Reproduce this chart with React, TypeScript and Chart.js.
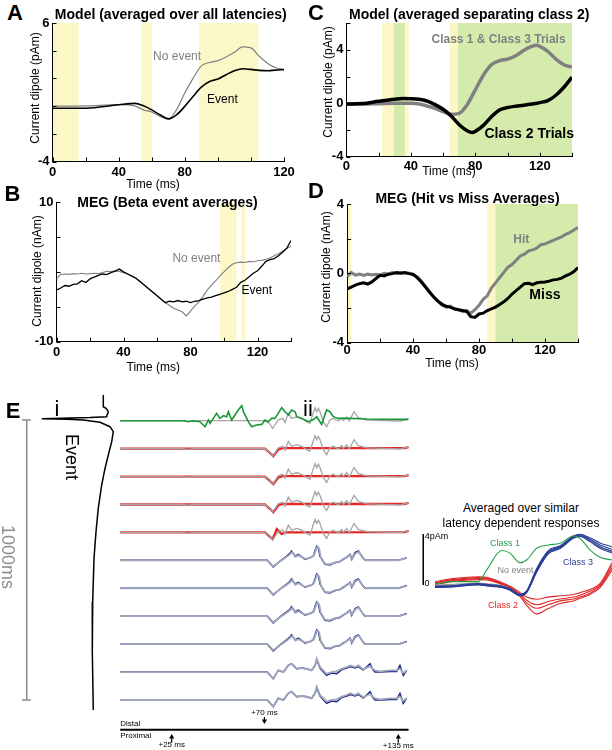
import React, { useEffect, useRef } from 'react';
import { Chart, registerables } from 'chart.js';

Chart.register(...registerables);

const FONT = '"Liberation Sans", Arial, Helvetica, sans-serif';

// ---------------- Panel A: Model (averaged over all latencies) ----------------
const A_T = [0, 20, 40, 50, 55, 60, 65, 70, 75, 80, 85, 90, 95, 100, 105, 110, 115, 120, 125, 130, 135, 140];
const A_EVENT = [-0.15, -0.15, 0.1, 0.2, 0.02, -0.27, -0.63, -0.92, -0.63, -0.02, 0.7, 1.37, 1.78, 1.95, 2.27, 2.55, 2.7, 2.65, 2.58, 2.55, 2.6, 2.63];
const A_NOEVENT = [0, 0.02, 0.1, 0, -0.27, -0.43, -0.75, -0.94, -0.27, 0.94, 2.0, 2.9, 3.15, 3.28, 3.54, 3.88, 4.27, 4.2, 3.6, 3.1, 2.77, 2.65];
const A_YELLOW = [[0, 15.8], [53.5, 60.1], [88.5, 124.6]];
const A_XLABELS: Record<string, string> = { '0': '0', '40': '40', '80': '80', '140': '120' };
const A_YLABELS: Record<string, string> = { '6': '6', '-4': '-4' };

// ---------------- Panel B: MEG (Beta event averages) ----------------
const B_T = [0, 2.5, 5, 7.5, 10, 12.5, 15, 17.5, 20, 22.5, 25, 27.5, 30, 32.5, 35, 37.5, 40, 42.5, 45, 47.5, 50, 52.5, 55, 57.5, 60, 62.5, 65, 67.5, 70, 72.5, 75, 77.5, 80, 82.5, 85, 87.5, 90, 92.5, 95, 97.5, 100, 102.5, 105, 107.5, 110, 112.5, 115, 117.5, 120, 122.5, 125, 127.5, 130, 132.5, 135, 137.5, 140];
const B_NOEVENT = [-1.0, -0.35, -0.3, -0.35, -0.25, -0.3, -0.2, -0.3, -0.25, -0.2, -0.25, -0.1, 0.1, 0.05, 0.15, 0.05, -0.1, -0.3, -0.6, -0.95, -1.4, -1.9, -2.4, -2.9, -3.4, -3.9, -4.4, -4.8, -5.2, -5.45, -5.7, -6.3, -5.6, -4.9, -4.3, -3.5, -2.6, -1.9, -1.3, -0.6, 0.0, 0.6, 1.1, 1.3, 1.4, 1.35, 1.5, 1.45, 1.6, 1.65, 1.8, 2.0, 2.3, 2.6, 3.0, 3.35, 3.7];
const B_EVENT = [-2.6, -2.3, -1.95, -2.05, -1.8, -1.7, -1.25, -1.5, -1.0, -0.75, -0.5, -0.3, -0.4, -0.1, 0.1, 0.4, 0.0, -0.3, -0.6, -0.9, -1.4, -1.9, -2.4, -2.9, -3.4, -3.9, -4.4, -4.2, -4.3, -4.1, -4.3, -4.2, -4.4, -4.2, -4.1, -3.9, -3.7, -3.6, -3.4, -3.2, -3.0, -2.8, -2.5, -2.2, -1.5, -1.2, -0.7, -0.2, 0.15, 0.8, 1.5, 1.75, 1.9, 2.3, 2.8, 3.4, 4.5];
const B_YELLOW = [[97.7, 107.5], [110.5, 112.7]];
const B_XLABELS: Record<string, string> = { '0': '0', '40': '40', '80': '80', '120': '120' };
const B_YLABELS: Record<string, string> = { '10': '10', '-10': '-10' };

// ---------------- Panel C: Model (averaged separating class 2) ----------------
const C_T = [0, 10, 20, 30, 35, 40, 45, 50, 55, 60, 65, 70, 75, 78, 80, 85, 90, 95, 100, 105, 110, 115, 118, 120, 125, 130, 135, 140];
const C_CLASS13 = [-0.05, -0.05, -0.03, 0, 0, 0, -0.05, -0.2, -0.38, -0.62, -0.82, -0.75, -0.1, 0.55, 1.0, 2.1, 2.88, 3.18, 3.3, 3.55, 3.95, 4.25, 4.33, 4.25, 3.88, 3.3, 2.88, 2.7];
const C_CLASS2 = [-0.05, -0.02, 0.15, 0.3, 0.35, 0.34, 0.3, 0.17, -0.1, -0.45, -0.95, -1.6, -2.05, -2.18, -2.1, -1.65, -1.0, -0.5, -0.32, -0.22, -0.15, -0.05, 0.0, 0.05, 0.2, 0.6, 1.2, 1.95];
const C_YELLOW = [[22.1, 38.6], [64, 69.2]];
const C_GREEN = [[29.5, 36.2], [69.2, 140]];
const C_XLABELS: Record<string, string> = { '0': '0', '40': '40', '80': '80', '120': '120' };
const C_YLABELS: Record<string, string> = { '4': '4', '0': '0', '-4': '-4' };

// ---------------- Panel D: MEG (Hit vs Miss Averages) ----------------
const D_T = B_T;
const D_HIT = [-0.2, 0.05, -0.1, -0.05, -0.12, -0.05, -0.1, -0.05, -0.1, 0.0, -0.05, 0.05, -0.02, 0.05, 0.0, 0.02, -0.1, -0.2, -0.45, -0.75, -1.05, -1.4, -1.6, -1.85, -1.95, -1.9, -2.05, -2.1, -2.2, -2.15, -2.3, -2.1, -1.85, -1.5, -1.3, -0.85, -0.55, -0.25, 0.05, 0.35, 0.5, 0.75, 1.0, 1.1, 1.3, 1.35, 1.45, 1.65, 1.7, 1.8, 1.9, 2.0, 2.1, 2.25, 2.35, 2.5, 2.65];
const D_MISS = [-0.9, -0.8, -0.68, -0.6, -0.55, -0.62, -0.5, -0.3, -0.12, -0.15, -0.05, -0.02, 0.05, 0.0, 0.05, -0.02, -0.05, -0.25, -0.5, -0.8, -1.1, -1.35, -1.6, -1.78, -1.9, -1.95, -2.05, -2.1, -2.15, -2.2, -2.5, -2.55, -2.35, -2.3, -2.15, -2.05, -1.95, -1.8, -1.65, -1.45, -1.2, -1.0, -0.8, -0.6, -0.58, -0.65, -0.55, -0.52, -0.5, -0.45, -0.38, -0.35, -0.28, -0.15, -0.05, 0.1, 0.33];
const D_YELLOW = [[0, 2.6], [84.8, 89.9]];
const D_GREEN = [[89.9, 140]];
const D_XLABELS: Record<string, string> = { '0': '0', '40': '40', '80': '80', '120': '120' };
const D_YLABELS: Record<string, string> = { '4': '4', '0': '0', '-4': '-4' };

// ---------------- Panel E i: event waveform (amplitude, time ms) ----------------
const EI_TRACE: [number, number][] = [[0.03, -89], [0.03, -47.5], [0.3, -41.8], [0.5, -32], [0.5, -25], [0.4, -18], [0.37, -11.9], [-1.3, -8.9], [-6.13, -4.6], [-3.63, -2.5], [-1.97, 0], [-0.3, 8.2], [0.7, 23.9], [1.03, 41.8], [0.87, 77.5], [0.53, 125], [0.2, 172.5], [-0.13, 232], [-0.47, 315], [-0.7, 399], [-0.9, 494], [-1.03, 649], [-1.07, 827], [-0.97, 1036]];
const EI_SCALEBAR_MS = [0, 1000];

// ---------------- Panel E ii: single-trial traces (time ms, amplitude) ----------------
const EII_GREEN: [number, number][] = [[0, 0], [31.5, 0], [33, -1], [35, 0], [38.7, -1], [41.2, -6], [42.8, 0.7], [43.6, -2.7], [45.2, 2.3], [46.8, 7.3], [48.4, 2.3], [50.1, 5], [51.7, 4], [52.5, 9], [54.1, 0.7], [55.7, 5.7], [57.3, 10.7], [59, 15], [59.8, 9], [61.4, 2.3], [62.2, -1], [63.8, -6], [66.2, -4.3], [68.7, -3.7], [70.3, 0.7], [71.9, -1], [73.5, 2.3], [75.1, 2.3], [76.7, 7.3], [78.4, 13], [80, 9], [81.6, 5.7], [83.2, 10.7], [84.9, 9], [85.7, 4], [88.1, 2.3], [89.7, 0.7], [91.3, -1], [93.4, 0.7], [95.4, 4], [97.8, -3.7], [100.2, 10.7], [101.8, 9], [103.4, 4], [105.9, 2.3], [111.6, 2.3], [119.7, 1.7], [135.9, 1.3], [139.9, 1.3]];
const EII_GREY_EARLY: [number, number][] = [[0, 0], [30, 0], [33, -0.7], [36, 0], [70.3, 0], [72.5, -3], [74, -7.7], [76.7, 0.7], [78.9, 2.3], [80, -1.7], [81.6, 7.3], [83.2, 2.3], [85.7, 4], [88.1, 2.3], [90.5, -1], [92.1, -2.7], [93.4, 5.7], [94.6, 13], [95.4, 9], [96.2, 12.3], [97, 9], [98.6, -1], [100.2, -6], [101.8, 0.7], [103.4, 2.3], [105.9, -0.3], [107.5, 3], [108.3, 0.3], [110, 3.7], [111.2, -0.3], [113.5, 9], [115.6, 3], [119.7, 0.7], [135.9, -0.3], [139.9, 1.7]];
const EII_RED: [number, number][] = [[0, 0], [70.3, 0], [72.7, -4.3], [74.3, -7.7], [76.7, -1], [78.6, 0.5], [138, 0.5], [140, 1.5]];
const EII_RED_LAST: [number, number][] = [[0, 0], [70.3, 0], [74, -6.7], [76, 3.3], [78.4, -1.7], [80, 0], [138, 0.3], [140, 1.5]];
const EII_BLUE_MID: [number, number][] = [[0, 0], [71.4, 0], [74.3, -6.7], [77.6, -0.7], [80.8, 4.3], [82.4, 7], [83.2, 9.3], [84.9, 4.3], [86.5, 6], [89.7, 1], [92.1, 2.7], [93.7, 4.3], [95.4, 14.3], [96.2, 12.7], [97, 4], [99.4, -4], [101.8, -4.7], [104.3, -2.3], [106.7, -1.3], [108.3, 1], [110, 3.3], [111.6, 6], [112.4, 1], [114, 7.7], [115.6, 9.3], [117.2, 4.3], [118.8, 0], [135, 0], [139.1, 2.7]];
const EII_GREY_MID: [number, number][] = [[0, 0], [71.4, 0], [74.3, -6], [77.6, -1], [80.8, 3.5], [82.4, 6], [83.6, 8.5], [85, 3.5], [86.5, 5], [89.7, 1.5], [92.1, 2.5], [93.9, 4.5], [95.6, 13.5], [96.6, 11.5], [97.4, 3], [99.4, -3.5], [101.8, -4], [104.3, -2], [106.7, -1], [108.3, 1.5], [110, 3], [111.6, 5.5], [112.6, 1.5], [114.2, 7], [115.8, 8.5], [117.4, 3.5], [119, 0], [135, 0], [139.1, 2.3]];
const EII_BLUE_LATE: [number, number][] = [[0, 0], [71.4, 0], [74.3, -6.7], [76.7, 1.7], [79.2, 0], [81.6, 6.7], [83.2, 8.3], [85.7, 3.3], [88.1, 4], [90.5, 3.3], [92.9, 1.7], [94.6, 6.7], [95.4, 12.5], [97, 4], [100.2, -3.3], [102.6, -1], [105.1, -1.7], [107.5, 2.5], [110, 4], [111.6, 5.5], [114, 4], [115.6, 5.5], [118, 2], [121.3, 8.3], [122.6, 2.5], [123.7, 0], [126.1, 0], [131, 0.5], [134.2, 0.5], [135.8, 6.7], [137.4, -3.3], [139.1, 1.7]];
const EII_GREY_LATE: [number, number][] = [[0, 0], [71.4, 0], [74.3, -6.7], [76.7, 1.7], [79.2, 0], [81.6, 6.7], [83.2, 8.3], [85.7, 3.3], [88.1, 4], [90.5, 3.3], [92.9, 1.7], [94.6, 6.7], [95.4, 13.3], [97, 5], [100.2, -1.7], [102.6, 0], [105.1, 0.7], [107.5, 3.3], [110, 5], [111.6, 6.7], [114, 5], [115.6, 6.7], [118, 2.7], [121.3, 6], [122.6, 3.3], [123.7, 1.7], [126.1, 0.7], [131, 1.7], [134.2, 1.7], [135.8, 3.3], [137.4, -1], [139.1, 1.7]];
const EII_ROW_CLASSES = ['green', 'red', 'red', 'red', 'red', 'blue', 'blue', 'blue', 'blue', 'blue', 'blue'];
const EII_MARKERS_MS = [25, 70, 135];

// ---------------- Inset: averaged latency-dependent responses (pAm) ----------------
const IN_T = [0, 14.5, 34.3, 40.9, 52.7, 59.3, 67.2, 72.5, 80.4, 89.6, 98.9, 109.4, 114.7, 122.6, 130.5, 140];
const IN_CLASS1 = [0.08, 0.26, 0.26, 1.18, 2.7, 2.5, 1.75, 1.96, 2.88, 3.14, 3.27, 3.84, 3.66, 2.75, 2.17, 1.96];
const IN_NOEVENT = [0.0, 0.05, 0.15, 0.1, -0.05, -0.3, -0.75, -0.5, 1.1, 2.55, 2.95, 3.75, 3.88, 3.5, 3.0, 2.6];
const IN_CLASS3_A = [-0.08, -0.04, 0.12, 0.05, -0.08, -0.28, -0.72, -0.46, 1.3, 2.7, 3.08, 3.85, 3.98, 3.7, 3.3, 3.0];
const IN_CLASS3_B = [-0.12, -0.08, 0.08, 0.0, -0.13, -0.34, -0.78, -0.52, 1.18, 2.61, 3.0, 3.79, 3.92, 3.58, 3.14, 2.8];
const IN_CLASS3_C = [-0.16, -0.12, 0.04, -0.04, -0.17, -0.38, -0.82, -0.56, 1.08, 2.52, 2.92, 3.72, 3.86, 3.48, 3.0, 2.65];
const IN_CLASS3_D = [-0.2, -0.15, 0.0, -0.08, -0.2, -0.42, -0.85, -0.6, 1.0, 2.45, 2.85, 3.66, 3.8, 3.38, 2.88, 2.5];
const IN_CLASS2_A = [0.26, 0.5, 0.65, 0.6, 0.2, -0.1, -0.6, -0.95, -1.12, -0.95, -0.85, -0.75, -0.6, -0.35, 0.1, 1.75];
const IN_CLASS2_B = [0.18, 0.42, 0.58, 0.55, 0.15, -0.15, -0.7, -1.2, -1.55, -1.3, -1.1, -0.95, -0.8, -0.5, 0.0, 1.55];
const IN_CLASS2_C = [0.1, 0.35, 0.5, 0.48, 0.1, -0.2, -0.8, -1.4, -1.83, -1.55, -1.25, -1.1, -0.95, -0.65, -0.1, 1.35];
const IN_CLASS2_D = [0.02, 0.28, 0.42, 0.4, 0.05, -0.25, -0.9, -1.6, -2.27, -1.85, -1.45, -1.25, -1.05, -0.75, -0.2, 1.15];
const IN_SCALEBAR_PAM = [0, 4];

// ---------------- styling ----------------
const YELLOW = 'rgb(251,247,198)';
const GREEN = 'rgb(213,235,171)';
const GREY = 'rgb(128,128,128)';
const ROW_GAP = 27.93;
const TIMELINE_LEVEL = -309;

const xy = (t: number[], v: number[]) => t.map((x, i) => ({ x, y: v[i] }));

const shadePlugin = (regions: { from: number; to: number; color: string }[]) => ({
  id: 'shade',
  beforeDraw(chart: any) {
    const { ctx, chartArea, scales } = chart;
    ctx.save();
    for (const r of regions) {
      const x0 = scales.x.getPixelForValue(r.from);
      const x1 = scales.x.getPixelForValue(r.to);
      ctx.fillStyle = r.color;
      ctx.fillRect(x0, chartArea.top, x1 - x0, chartArea.bottom - chartArea.top);
    }
    ctx.restore();
  },
});

const inwardTicks = {
  id: 'inwardTicks',
  afterDraw(chart: any) {
    const { ctx, chartArea, scales } = chart;
    ctx.save();
    ctx.strokeStyle = '#000';
    ctx.lineWidth = 1;
    ctx.beginPath();
    for (const t of scales.x.ticks) {
      const px = Math.round(scales.x.getPixelForValue(t.value)) + 0.5;
      ctx.moveTo(px, chartArea.bottom);
      ctx.lineTo(px, chartArea.bottom - 4);
    }
    for (const t of scales.y.ticks) {
      const py = Math.round(scales.y.getPixelForValue(t.value)) + 0.5;
      ctx.moveTo(chartArea.left, py);
      ctx.lineTo(chartArea.left + 4, py);
    }
    ctx.stroke();
    ctx.restore();
  },
};

type Note = { x: number; y: number; text: string; color: string; font: string; align?: string };
const notesPlugin = (list: Note[]) => ({
  id: 'notes',
  afterDatasetsDraw(chart: any) {
    const { ctx, scales } = chart;
    ctx.save();
    for (const n of list) {
      ctx.font = n.font;
      ctx.fillStyle = n.color;
      ctx.textAlign = n.align || 'left';
      ctx.textBaseline = 'middle';
      ctx.fillText(n.text, scales.x.getPixelForValue(n.x), scales.y.getPixelForValue(n.y));
    }
    ctx.restore();
  },
});

const arrowsPlugin = (list: { x: number; from: number; to: number }[]) => ({
  id: 'arrows',
  afterDatasetsDraw(chart: any) {
    const { ctx, scales } = chart;
    ctx.save();
    ctx.strokeStyle = '#000';
    ctx.fillStyle = '#000';
    ctx.lineWidth = 1.2;
    for (const a of list) {
      const px = scales.x.getPixelForValue(a.x);
      const y0 = scales.y.getPixelForValue(a.from);
      const y1 = scales.y.getPixelForValue(a.to);
      const dir = Math.sign(y1 - y0);
      ctx.beginPath();
      ctx.moveTo(px, y0);
      ctx.lineTo(px, y1 - dir * 3);
      ctx.stroke();
      ctx.beginPath();
      ctx.moveTo(px, y1);
      ctx.lineTo(px - 2.6, y1 - dir * 4.5);
      ctx.lineTo(px + 2.6, y1 - dir * 4.5);
      ctx.closePath();
      ctx.fill();
    }
    ctx.restore();
  },
});

type Spec = {
  plotLeft: number; plotTop: number; plotW: number; plotH: number;
  W: number; H: number; T: number; R: number; xPad: number;
  yMin: number; yMax: number; yStep: number;
  xLabels: Record<string, string>; yLabels: Record<string, string>;
  datasets: any[];
  regions: { from: number; to: number; color: string }[];
  notes: Note[];
};

const geom = (s: Spec) => ({
  left: s.plotLeft - s.W,
  top: s.plotTop - s.T,
  width: Math.round(s.W + s.plotW + s.R),
  height: Math.round(s.T + s.plotH + s.H),
});

const tickFont = { family: FONT, size: 13, weight: 'bold' as const };

function panelConfig(s: Spec) {
  return {
    type: 'line',
    data: { datasets: s.datasets },
    options: {
      animation: false,
      responsive: false,
      devicePixelRatio: 1,
      events: [],
      layout: { padding: { left: 0, top: s.T, right: s.R, bottom: 0 } },
      plugins: { legend: { display: false }, tooltip: { enabled: false } },
      elements: { point: { radius: 0 } },
      scales: {
        x: {
          type: 'linear', min: 0, max: 140,
          ticks: { stepSize: 20, autoSkip: false, maxRotation: 0, padding: s.xPad, color: '#000', font: tickFont, callback: (v: number) => s.xLabels[String(v)] ?? '' },
          grid: { display: false, drawTicks: false },
          border: { display: true, color: '#000', width: 1 },
          afterFit: (sc: any) => { sc.height = s.H; sc.paddingLeft = 0; sc.paddingRight = 0; },
        },
        y: {
          type: 'linear', min: s.yMin, max: s.yMax,
          ticks: { stepSize: s.yStep, autoSkip: false, padding: 3, color: '#000', font: tickFont, callback: (v: number) => s.yLabels[String(v)] ?? '' },
          grid: { display: false, drawTicks: false },
          border: { display: true, color: '#000', width: 1 },
          afterFit: (sc: any) => { sc.width = s.W; sc.paddingTop = 0; sc.paddingBottom = 0; },
        },
      },
    },
    plugins: [shadePlugin(s.regions), inwardTicks, notesPlugin(s.notes)],
  };
}

const line = (data: any[], color: string, width: number, tension = 0) => ({
  data, borderColor: color, borderWidth: width, pointRadius: 0, fill: false,
  tension, cubicInterpolationMode: tension ? 'monotone' : 'default',
});

const regs = (list: number[][], color: string) => list.map(([from, to]) => ({ from, to, color }));

const SPEC_A: Spec = {
  plotLeft: 52.3, plotTop: 23.3, plotW: 231.7, plotH: 138.4, W: 24.5, H: 29.5, T: 12, R: 14, xPad: 3.6,
  yMin: -4, yMax: 6, yStep: 2, xLabels: A_XLABELS, yLabels: A_YLABELS,
  datasets: [line(xy(A_T, A_EVENT), '#000', 1.6, 0.4), line(xy(A_T, A_NOEVENT), GREY, 1.2, 0.4)],
  regions: regs(A_YELLOW, YELLOW),
  notes: [
    { x: 60.8, y: 3.56, text: 'No event', color: GREY, font: `12px ${FONT}` },
    { x: 93.5, y: 0.46, text: 'Event', color: '#000', font: `12px ${FONT}` },
  ],
};

const SPEC_B: Spec = {
  plotLeft: 56, plotTop: 202.3, plotW: 234.7, plotH: 139.4, W: 26.5, H: 32.2, T: 12, R: 12, xPad: 2.8,
  yMin: -10, yMax: 10, yStep: 5, xLabels: B_XLABELS, yLabels: B_YLABELS,
  datasets: [line(xy(B_T, B_EVENT), '#000', 1.3), line(xy(B_T, B_NOEVENT), GREY, 1.1)],
  regions: regs(B_YELLOW, YELLOW),
  notes: [
    { x: 69.2, y: 1.87, text: 'No event', color: GREY, font: `12px ${FONT}` },
    { x: 110.4, y: -2.73, text: 'Event', color: '#000', font: `12px ${FONT}` },
  ],
};

const SPEC_C: Spec = {
  plotLeft: 346.7, plotTop: 23.3, plotW: 226, plotH: 133.4, W: 26.4, H: 21.2, T: 12, R: 14, xPad: 1.8,
  yMin: -4, yMax: 6, yStep: 2, xLabels: C_XLABELS, yLabels: C_YLABELS,
  datasets: [line(xy(C_T, C_CLASS2), '#000', 3.5, 0.4), line(xy(C_T, C_CLASS13), GREY, 3.5, 0.4)],
  regions: [...regs(C_YELLOW, YELLOW), ...regs(C_GREEN, GREEN)],
  notes: [
    { x: 52.8, y: 4.75, text: 'Class 1 & Class 3 Trials', color: GREY, font: `bold 12px ${FONT}` },
    { x: 85.7, y: -2.3, text: 'Class 2 Trials', color: '#000', font: `bold 14px ${FONT}` },
  ],
};

const SPEC_D: Spec = {
  plotLeft: 346.7, plotTop: 204.3, plotW: 231, plotH: 139, W: 28.1, H: 26.4, T: 12, R: 14, xPad: 0.5,
  yMin: -4, yMax: 4, yStep: 2, xLabels: D_XLABELS, yLabels: D_YLABELS,
  datasets: [line(xy(D_T, D_MISS), '#000', 3), line(xy(D_T, D_HIT), GREY, 3)],
  regions: [...regs(D_YELLOW, YELLOW), ...regs(D_GREEN, GREEN)],
  notes: [
    { x: 100.8, y: 1.95, text: 'Hit', color: GREY, font: `bold 12px ${FONT}` },
    { x: 110.5, y: -1.28, text: 'Miss', color: '#000', font: `bold 14px ${FONT}` },
  ],
};

const hiddenScales = (xMin: number, xMax: number, yMin: number, yMax: number, yReverse = false) => ({
  x: { type: 'linear', display: false, min: xMin, max: xMax },
  y: { type: 'linear', display: false, min: yMin, max: yMax, reverse: yReverse },
});

const baseOptions = {
  animation: false, responsive: false, devicePixelRatio: 1, events: [],
  layout: { padding: 0 },
  plugins: { legend: { display: false }, tooltip: { enabled: false } },
  elements: { point: { radius: 0 } },
};

// E i: time runs downward
const EI_BOX = { left: 0, top: 385, width: 130, height: 335 };
function eiConfig() {
  const barA = -7.63;
  return {
    type: 'line',
    data: {
      datasets: [
        line(EI_TRACE.map(([a, t]) => ({ x: a, y: t })), '#000', 1.5),
        line(EI_SCALEBAR_MS.map((t) => ({ x: barA, y: t })), 'rgb(140,140,140)', 1.5),
        ...EI_SCALEBAR_MS.map((t) => line([{ x: barA - 0.47, y: t }, { x: barA + 0.43, y: t }], 'rgb(140,140,140)', 1.5)),
      ],
    },
    options: { ...baseOptions, scales: hiddenScales(-10.3, 2.7, -125, 1071.4, true) },
  };
}

// E ii: eleven trial rows
const EII_BOX = { left: 100, top: 398, width: 320, height: 352 };
function eiiConfig() {
  const off = (pts: [number, number][], row: number) => pts.map(([t, v]) => ({ x: t, y: v - row * ROW_GAP }));
  const green: any[] = [];
  const greyEarly: any[] = [];
  const greyBlue: any[] = [];
  const blues: any[] = [];
  const reds: any[] = [];
  let blueIdx = 0;
  EII_ROW_CLASSES.forEach((cls, row) => {
    if (cls === 'green') {
      green.push(line(off(EII_GREEN, row), 'rgb(25,150,55)', 1.6));
      greyEarly.push(line(off(EII_GREY_EARLY, row), 'rgb(165,165,165)', 1.3));
    } else if (cls === 'red') {
      const last = row === 4;
      reds.push(line(off(last ? EII_RED_LAST : EII_RED, row), 'rgb(228,38,38)', 2.3));
      greyEarly.push(line(off(EII_GREY_EARLY, row), 'rgb(165,165,165)', 1.3));
    } else {
      const late = blueIdx >= 4;
      blueIdx++;
      blues.push(line(off(late ? EII_BLUE_LATE : EII_BLUE_MID, row), 'rgb(25,35,135)', 1.5));
      greyBlue.push(line(off(late ? EII_GREY_LATE : EII_GREY_MID, row), 'rgb(160,167,186)', 1.8));
    }
  });
  const timeline = line([{ x: 0, y: TIMELINE_LEVEL }, { x: 140, y: TIMELINE_LEVEL }], '#000', 2);
  const small = `8px ${FONT}`;
  return {
    type: 'line',
    // first dataset is drawn on top
    data: { datasets: [timeline, ...green, ...greyBlue, ...blues, ...greyEarly, ...reds] },
    options: { ...baseOptions, scales: hiddenScales(-9.81, 145.53, -329.3, 22.7) },
    plugins: [
      notesPlugin([
        { x: EII_MARKERS_MS[1], y: TIMELINE_LEVEL + 16.7, text: '+70 ms', color: '#000', font: small, align: 'center' },
        { x: 0, y: TIMELINE_LEVEL + 6.4, text: 'Distal', color: '#000', font: small },
        { x: 0, y: TIMELINE_LEVEL - 6.3, text: 'Proximal', color: '#000', font: small },
        { x: EII_MARKERS_MS[0], y: TIMELINE_LEVEL - 15.3, text: '+25 ms', color: '#000', font: small, align: 'center' },
        { x: EII_MARKERS_MS[2], y: TIMELINE_LEVEL - 16.3, text: '+135 ms', color: '#000', font: small, align: 'center' },
      ]),
      arrowsPlugin([
        { x: EII_MARKERS_MS[1], from: TIMELINE_LEVEL + 12.7, to: TIMELINE_LEVEL + 5.7 },
        { x: EII_MARKERS_MS[0], from: TIMELINE_LEVEL - 13, to: TIMELINE_LEVEL - 4.3 },
        { x: EII_MARKERS_MS[2], from: TIMELINE_LEVEL - 13, to: TIMELINE_LEVEL - 4.3 },
      ]),
    ],
  };
}

// Inset
const IN_BOX = { left: 420, top: 528, width: 192, height: 97 };
function insetConfig() {
  const BLUE = 'rgb(40,60,150)';
  const RED = 'rgb(220,40,40)';
  return {
    type: 'line',
    data: {
      datasets: [
        line(xy(IN_T, IN_CLASS1), 'rgb(40,160,70)', 1.1, 0.4),
        line(xy(IN_T, IN_CLASS3_A), BLUE, 1.1, 0.4),
        line(xy(IN_T, IN_CLASS3_B), BLUE, 1.1, 0.4),
        line(xy(IN_T, IN_CLASS3_C), BLUE, 1.1, 0.4),
        line(xy(IN_T, IN_CLASS3_D), BLUE, 1.1, 0.4),
        line(xy(IN_T, IN_NOEVENT), 'rgb(150,150,150)', 1.1, 0.4),
        line(xy(IN_T, IN_CLASS2_A), RED, 1.1, 0.4),
        line(xy(IN_T, IN_CLASS2_B), RED, 1.1, 0.4),
        line(xy(IN_T, IN_CLASS2_C), RED, 1.1, 0.4),
        line(xy(IN_T, IN_CLASS2_D), RED, 1.1, 0.4),
        line(IN_SCALEBAR_PAM.map((v) => ({ x: -9.3, y: v })), '#000', 1.5),
      ],
    },
    options: { ...baseOptions, scales: hiddenScales(-11.87, 140, -3.14, 4.47) },
  };
}

function ChartCanvas(props: { left: number; top: number; width: number; height: number; build: () => any }) {
  const ref = useRef<HTMLCanvasElement>(null);
  useEffect(() => {
    const chart = new Chart(ref.current as HTMLCanvasElement, props.build());
    return () => chart.destroy();
  }, []);
  return (
    <canvas
      ref={ref}
      width={props.width}
      height={props.height}
      style={{ position: 'absolute', left: props.left, top: props.top, width: props.width, height: props.height, display: 'block' }}
    />
  );
}

function Txt(props: { x: number; y: number; size: number; bold?: boolean; color?: string; rotate?: number; children: React.ReactNode }) {
  return (
    <div
      style={{
        position: 'absolute', left: props.x, top: props.y,
        transform: `translate(-50%,-50%) rotate(${props.rotate || 0}deg)`,
        fontFamily: FONT, fontSize: props.size, fontWeight: props.bold ? 'bold' : 'normal',
        color: props.color || '#000', whiteSpace: 'nowrap', lineHeight: 1,
      }}
    >
      {props.children}
    </div>
  );
}

function Panel({ spec }: { spec: Spec }) {
  const g = geom(spec);
  return <ChartCanvas {...g} build={() => panelConfig(spec)} />;
}

export default function App() {
  return (
    <div style={{ position: 'absolute', left: 0, top: 0, width: 612, height: 750, overflow: 'hidden', background: '#fff' }}>
      <Panel spec={SPEC_A} />
      <Panel spec={SPEC_B} />
      <Panel spec={SPEC_C} />
      <Panel spec={SPEC_D} />
      <ChartCanvas {...EI_BOX} build={eiConfig} />
      <ChartCanvas {...EII_BOX} build={eiiConfig} />
      <ChartCanvas {...IN_BOX} build={insetConfig} />

      <Txt x={15} y={12.5} size={22} bold>A</Txt>
      <Txt x={12.5} y={194} size={22} bold>B</Txt>
      <Txt x={316} y={12.5} size={22} bold>C</Txt>
      <Txt x={316} y={191} size={22} bold>D</Txt>
      <Txt x={13} y={411} size={22} bold>E</Txt>
      <Txt x={57} y={409} size={22}>i</Txt>
      <Txt x={308} y={409} size={22}>ii</Txt>

      <Txt x={170.8} y={14} size={14} bold>Model (averaged over all latencies)</Txt>
      <Txt x={167.5} y={201.7} size={14} bold>MEG (Beta event averages)</Txt>
      <Txt x={469.2} y={14} size={14} bold>Model (averaged separating class 2)</Txt>
      <Txt x={467.5} y={198.3} size={14} bold>MEG (Hit vs Miss Averages)</Txt>

      <Txt x={153} y={184} size={12}>Time (ms)</Txt>
      <Txt x={153.3} y={366.5} size={12}>Time (ms)</Txt>
      <Txt x={449} y={170.5} size={12}>Time (ms)</Txt>
      <Txt x={452} y={362.5} size={12}>Time (ms)</Txt>
      <Txt x={35} y={87.5} size={12} rotate={-90}>Current dipole (pAm)</Txt>
      <Txt x={36.7} y={270.7} size={12} rotate={-90}>Current dipole (nAm)</Txt>
      <Txt x={327.5} y={81.7} size={12} rotate={-90}>Current dipole (pAm)</Txt>
      <Txt x={325.8} y={266.7} size={12} rotate={-90}>Current dipole (nAm)</Txt>

      <Txt x={7.5} y={557} size={18} color="rgb(140,140,140)" rotate={90}>1000ms</Txt>
      <Txt x={71.5} y={456.5} size={18} rotate={90}>Event</Txt>

      <Txt x={521} y={508} size={12}>Averaged over similar</Txt>
      <Txt x={521} y={523} size={12}>latency dependent responses</Txt>
      <Txt x={436.5} y={536} size={9}>4pAm</Txt>
      <Txt x={427} y={583} size={9}>0</Txt>
      <Txt x={505} y={543} size={9} color="rgb(40,160,70)">Class 1</Txt>
      <Txt x={515.5} y={570} size={9} color="rgb(130,130,130)">No event</Txt>
      <Txt x={578} y={562} size={9} color="rgb(40,60,150)">Class 3</Txt>
      <Txt x={503} y={605} size={9} color="rgb(220,40,40)">Class 2</Txt>
    </div>
  );
}
